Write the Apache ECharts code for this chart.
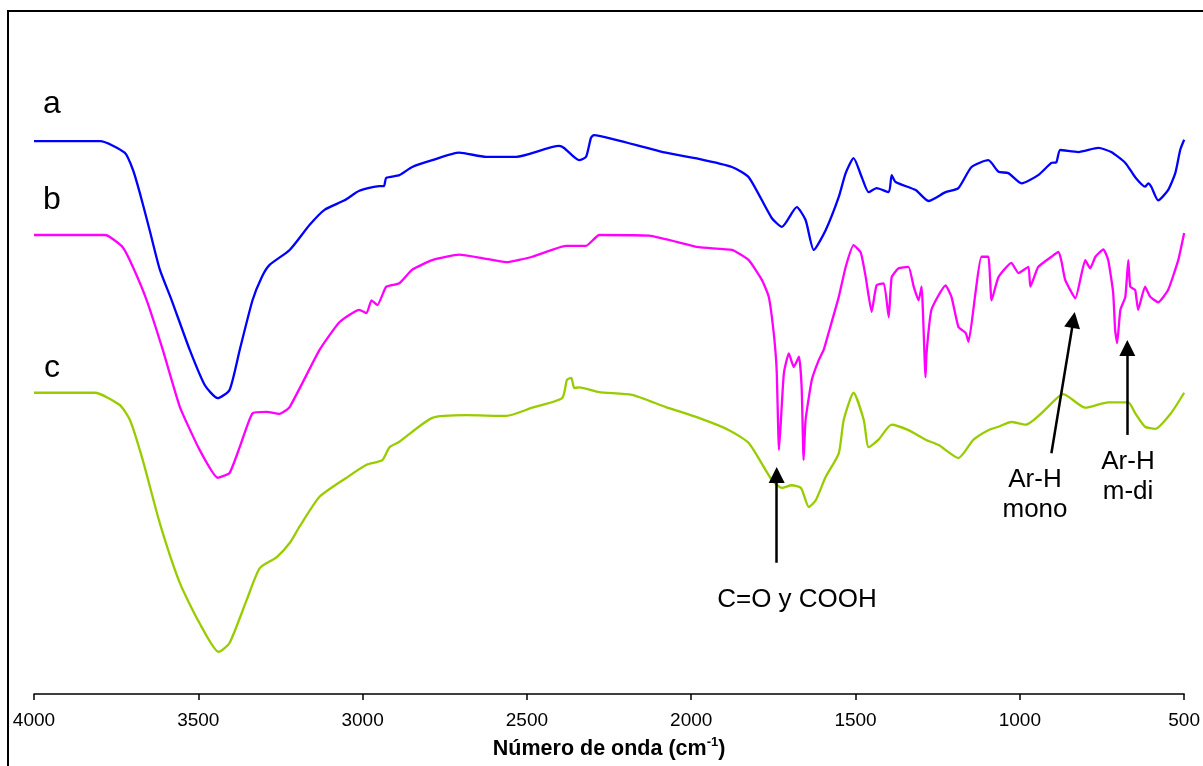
<!DOCTYPE html>
<html>
<head>
<meta charset="utf-8">
<script src="https://cdn.jsdelivr.net/npm/echarts@6/dist/echarts.min.js"></script>
<style>
html,body{margin:0;padding:0;background:#fff;}
#chart{width:1203px;height:766px;}
</style>
</head>
<body>
<div id="chart"></div>
<script>
// ---- Data (wavenumber cm-1, relative transmittance, arbitrary units) ----
const xTicks = [4000, 3500, 3000, 2500, 2000, 1500, 1000, 500];

const waveA = [4000,3799,3724,3699,3678,3648,3617,3581,3526,3480,3441,3405,3374,3335,3307,3283,3222,3161,3116,3055,3010,2949,2935,2928,2888,2849,2788,2706,2624,2533,2402,2387,2341,2320,2305,2296,2229,2077,1977,1876,1825,1755,1724,1679,1652,1627,1591,1551,1530,1506,1481,1460,1436,1399,1390,1378,1317,1278,1226,1187,1147,1096,1065,1035,995,944,904,889,877,822,761,722,679,649,619,609,600,579,549,527,512,500];
const valA  = [81.3,81.3,79.6,77.1,73.7,68.2,62.4,57.9,50.6,45.4,43.5,44.7,50.6,57.9,61.3,63.1,65.3,69.0,71.2,72.6,74.0,74.7,74.7,75.9,76.3,77.5,78.5,79.6,79.0,79.0,80.6,80.3,78.5,79.0,81.8,82.2,81.5,79.6,78.7,77.5,76.0,70.0,68.7,71.6,69.7,65.3,68.2,73.1,76.6,78.8,76.0,73.8,74.4,73.8,76.3,75.3,74.1,72.5,73.8,74.4,77.5,78.5,76.8,76.6,75.1,76.3,78.1,78.2,80.0,79.7,80.3,79.7,78.1,76.0,74.6,75.1,74.6,72.6,74.1,76.6,80.0,81.5];

const waveB = [4000,3784,3769,3730,3699,3657,3608,3556,3496,3441,3405,3374,3335,3292,3253,3222,3131,3070,3010,2988,2973,2955,2928,2888,2849,2788,2706,2636,2563,2484,2381,2320,2280,2128,1977,1876,1825,1785,1764,1749,1740,1733,1727,1718,1703,1688,1672,1664,1658,1652,1633,1612,1597,1582,1551,1530,1506,1484,1469,1451,1436,1414,1399,1390,1369,1339,1323,1308,1299,1287,1284,1269,1226,1208,1187,1165,1156,1135,1117,1096,1086,1065,1026,1004,974,968,944,904,883,874,862,831,801,786,770,746,731,716,710,704,694,679,670,664,649,640,619,603,579,549,518,500];
const valB  = [67.5,67.5,67.2,65.7,62.8,57.9,50.6,42.2,35.9,31.8,32.5,36.3,41.3,41.5,41.2,42.2,50.6,54.7,56.5,56.0,57.9,57.2,59.9,60.4,62.4,63.8,64.6,64.1,63.5,64.3,65.9,65.9,67.5,67.4,65.7,65.3,63.8,60.9,58.4,53.1,47.6,35.9,40.3,47.2,50.1,48.1,49.6,45.1,34.4,40.3,46.2,49.1,50.6,53.1,58.4,62.8,66.0,64.9,61.3,56.2,60.1,60.4,55.4,61.3,62.6,62.8,59.9,57.9,59.9,46.6,50.1,56.5,60.1,58.4,54.0,53.1,51.8,59.0,64.3,64.3,57.9,61.3,63.4,61.9,62.8,59.9,62.8,64.3,65.0,63.8,60.9,58.2,63.8,62.6,64.3,65.4,63.8,59.0,53.5,51.6,56.5,58.4,63.8,59.9,59.4,56.5,59.9,58.4,57.6,59.4,63.8,67.8];

const waveC = [4000,3815,3739,3708,3669,3617,3556,3496,3438,3405,3353,3313,3262,3222,3192,3131,3049,2988,2940,2918,2888,2788,2684,2563,2484,2393,2378,2365,2356,2341,2280,2180,2077,1977,1885,1825,1755,1724,1694,1666,1642,1621,1591,1551,1536,1506,1475,1460,1430,1390,1339,1287,1247,1187,1141,1096,1065,1026,983,883,868,801,731,670,649,619,588,540,500];
const valC  = [44.3,44.3,42.5,40.3,34.4,25.1,16.3,10.4,6.2,7.5,13.8,18.5,20.1,22.2,24.6,29.0,31.8,33.7,34.4,36.3,37.1,40.6,41.0,40.9,42.1,43.5,46.2,46.5,45.0,45.1,44.4,44.0,42.2,40.6,38.8,36.9,31.5,30.3,30.7,30.3,27.5,28.5,31.9,35.4,40.3,44.3,40.3,36.3,37.4,39.6,38.8,37.4,36.6,34.7,37.4,38.8,39.3,40.0,39.6,43.7,44.1,42.1,42.9,42.9,41.3,39.3,39.0,41.3,44.3];

// Annotation arrows: [fromWave, fromVal, toWave, toVal]
const arrowCO   = [1740, 19.3, 1740, 32.2];
const arrowMono = [904, 35.4, 837, 55.0];
const arrowMdi  = [673, 38.1, 673, 50.9];

const seriesNames = ['a', 'b', 'c'];
const seriesColors = ['#0000FF', '#FF00FF', '#99CC00'];

function zip(w, v) { return w.map((x, i) => [x, v[i]]); }

const FONT = '"Liberation Sans", Arial, sans-serif';
const chart = echarts.init(document.getElementById('chart'), null, {renderer: 'canvas'});

function arrowLine(a) {
  return [{coord: [a[0], a[1]]}, {coord: [a[2], a[3]]}];
}

const option = {
  animation: false,
  backgroundColor: '#fff',
  grid: {left: 34, right: 17, top: 14, bottom: 72, containLabel: false},
  xAxis: {
    type: 'value',
    min: 500, max: 4000, interval: 500,
    inverse: true,
    name: '{b|Número de onda (cm}{s|-1}{b|)}',
    nameLocation: 'middle',
    nameGap: 42,
    nameTextStyle: {
      rich: {
        b: {fontFamily: FONT, fontSize: 21.5, fontWeight: 'bold', color: '#000', verticalAlign: 'bottom', lineHeight: 24},
        s: {fontFamily: FONT, fontSize: 13, fontWeight: 'bold', color: '#000', verticalAlign: 'top', padding: [0,0,10,0], lineHeight: 24}
      }
    },
    axisLine: {show: true, lineStyle: {color: '#000', width: 1.5}},
    axisTick: {show: true, length: 6, inside: false, lineStyle: {color: '#000', width: 1.5}},
    axisLabel: {show: true, fontFamily: FONT, fontSize: 19, color: '#000', margin: 17,
      formatter: v => xTicks.includes(v) ? String(v) : ''},
    splitLine: {show: false}
  },
  yAxis: {
    type: 'value', min: 0, max: 100, show: false,
    splitLine: {show: false}
  },
  series: [
    {name: seriesNames[0], type: 'line', data: zip(waveA, valA), showSymbol: false, symbol: 'none',
     lineStyle: {color: seriesColors[0], width: 2.3}, smooth: 0.2, z: 3},
    {name: seriesNames[1], type: 'line', data: zip(waveB, valB), showSymbol: false, symbol: 'none',
     lineStyle: {color: seriesColors[1], width: 2.3}, smooth: 0.15, z: 2},
    {name: seriesNames[2], type: 'line', data: zip(waveC, valC), showSymbol: false, symbol: 'none',
     lineStyle: {color: seriesColors[2], width: 2.3}, smooth: 0.2, z: 1,
     markLine: {
       silent: true,
       symbol: ['none', 'triangle'],
       symbolSize: 16,
       label: {show: false},
       lineStyle: {color: '#000', width: 2.5, type: 'solid'},
       itemStyle: {color: '#000'},
       emphasis: {disabled: true},
       data: [arrowLine(arrowCO), arrowLine(arrowMono), arrowLine(arrowMdi)]
     }}
  ],
  graphic: [
    {type: 'rect', shape: {x: 8, y: 11, width: 1260, height: 800}, style: {fill: 'none', stroke: '#000', lineWidth: 2}, silent: true, z: 0},
    {type: 'text', x: 52, y: 104, style: {text: 'a', font: '32px ' + FONT, fill: '#000', align: 'center', verticalAlign: 'middle'}},
    {type: 'text', x: 52, y: 200, style: {text: 'b', font: '32px ' + FONT, fill: '#000', align: 'center', verticalAlign: 'middle'}},
    {type: 'text', x: 52, y: 368, style: {text: 'c', font: '32px ' + FONT, fill: '#000', align: 'center', verticalAlign: 'middle'}},
    {type: 'text', x: 797, y: 600, style: {text: 'C=O y COOH', font: '26px ' + FONT, fill: '#000', align: 'center', verticalAlign: 'middle'}},
    {type: 'text', x: 1035, y: 480, style: {text: 'Ar-H', font: '26px ' + FONT, fill: '#000', align: 'center', verticalAlign: 'middle'}},
    {type: 'text', x: 1035, y: 510, style: {text: 'mono', font: '26px ' + FONT, fill: '#000', align: 'center', verticalAlign: 'middle'}},
    {type: 'text', x: 1128, y: 462, style: {text: 'Ar-H', font: '26px ' + FONT, fill: '#000', align: 'center', verticalAlign: 'middle'}},
    {type: 'text', x: 1128, y: 492, style: {text: 'm-di', font: '26px ' + FONT, fill: '#000', align: 'center', verticalAlign: 'middle'}}
  ]
};
chart.setOption(option);
</script>
</body>
</html>
